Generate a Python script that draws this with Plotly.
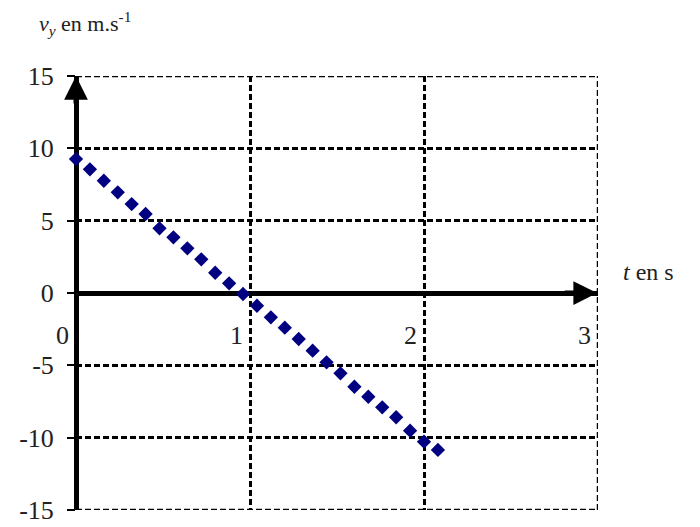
import plotly.graph_objects as go

# data
t_values = [0.00, 0.08, 0.16, 0.24, 0.32, 0.40, 0.48, 0.56, 0.64, 0.72, 0.80, 0.88, 0.96, 1.04,
            1.12, 1.20, 1.28, 1.36, 1.44, 1.52, 1.60, 1.68, 1.76, 1.84, 1.92, 2.00, 2.08]
vy_values = [9.26, 8.55, 7.76, 6.96, 6.15, 5.46, 4.47, 3.85, 3.09, 2.33, 1.40, 0.67, -0.07, -0.88,
             -1.68, -2.40, -3.18, -3.99, -4.79, -5.55, -6.48, -7.17, -7.90, -8.59, -9.52, -10.28, -10.85]

x_ticks = [0, 1, 2, 3]
x_tick_labels = ["0", "1", "2", "3"]
y_ticks = [-15, -10, -5, 0, 5, 10, 15]
y_tick_labels = ["-15", "-10", "-5", "0", "5", "10", "15"]
x_range = [0, 3]
y_range = [-15, 15]

FONT = "Liberation Serif"
GRID_DASH = "6px,3px"
GRID_W = 2.5
TXT = "#222"

fig = go.Figure()
fig.add_trace(go.Scatter(
    x=t_values, y=vy_values, mode="markers",
    marker=dict(symbol="diamond", size=11, color="#000080", line=dict(width=0)),
    showlegend=False, cliponaxis=False,
))

# border gridlines at the range edges (plotly omits gridlines exactly on the plot edge)
shapes = [
    dict(type="line", xref="x", yref="y", x0=x_range[0], x1=x_range[1], y0=y_range[1], y1=y_range[1],
         line=dict(color="black", width=GRID_W, dash=GRID_DASH), layer="below"),
    dict(type="line", xref="x", yref="y", x0=x_range[0], x1=x_range[1], y0=y_range[0], y1=y_range[0],
         line=dict(color="black", width=GRID_W, dash=GRID_DASH), layer="below"),
    dict(type="line", xref="x", yref="y", x0=x_range[1], x1=x_range[1], y0=y_range[0], y1=y_range[1],
         line=dict(color="black", width=GRID_W, dash=GRID_DASH), layer="below"),
]

annotations = []
for xv, lab in zip(x_ticks, x_tick_labels):
    annotations.append(dict(x=xv, y=0, xref="x", yref="y", text=lab, showarrow=False,
                            xanchor="right", yanchor="middle", xshift=-5, yshift=-42,
                            font=dict(family=FONT, size=26, color=TXT)))
# axis arrows
annotations.append(dict(x=0, y=15, xref="x", yref="y", ax=0, ay=13.0, axref="x", ayref="y",
                        showarrow=True, arrowhead=2, arrowsize=0.95, arrowwidth=5, arrowcolor="black", text=""))
annotations.append(dict(x=2.995, y=0, xref="x", yref="y", ax=2.8, ay=0, axref="x", ayref="y",
                        showarrow=True, arrowhead=2, arrowsize=0.95, arrowwidth=5, arrowcolor="black", text=""))
# axis titles
annotations.append(dict(x=0, y=1.0, xref="paper", yref="paper", xshift=-39, yshift=53,
                        text="<i>v</i><sub><i>y</i></sub> en m.s<sup>-1</sup>", showarrow=False,
                        xanchor="left", yanchor="middle", font=dict(family=FONT, size=22, color=TXT)))
annotations.append(dict(x=3, y=0, xref="x", yref="y", xshift=23, yshift=21,
                        text="<i>t</i> en s", showarrow=False,
                        xanchor="left", yanchor="middle", font=dict(family=FONT, size=24, color=TXT)))

# the page body adds an 8px margin, so the figure is 8px smaller than the window
fig.update_layout(
    width=692, height=519,
    margin=dict(l=68, r=102, t=68, b=17, autoexpand=False),
    paper_bgcolor="white", plot_bgcolor="white",
    annotations=annotations, shapes=shapes,
    xaxis=dict(range=x_range, tickvals=x_ticks, showticklabels=False, automargin=False,
               showgrid=True, gridcolor="black", gridwidth=GRID_W, griddash=GRID_DASH,
               zeroline=True, zerolinecolor="black", zerolinewidth=5,
               showline=False, ticks=""),
    yaxis=dict(range=y_range, tickvals=y_ticks, ticktext=y_tick_labels, automargin=False,
               showgrid=True, gridcolor="black", gridwidth=GRID_W, griddash=GRID_DASH,
               zeroline=True, zerolinecolor="black", zerolinewidth=5,
               showline=False, ticks="outside", ticklen=8, tickwidth=2, tickcolor="black",
               ticklabelstandoff=8,
               tickfont=dict(family=FONT, size=26, color=TXT)),
)

fig.write_html("out.html")
